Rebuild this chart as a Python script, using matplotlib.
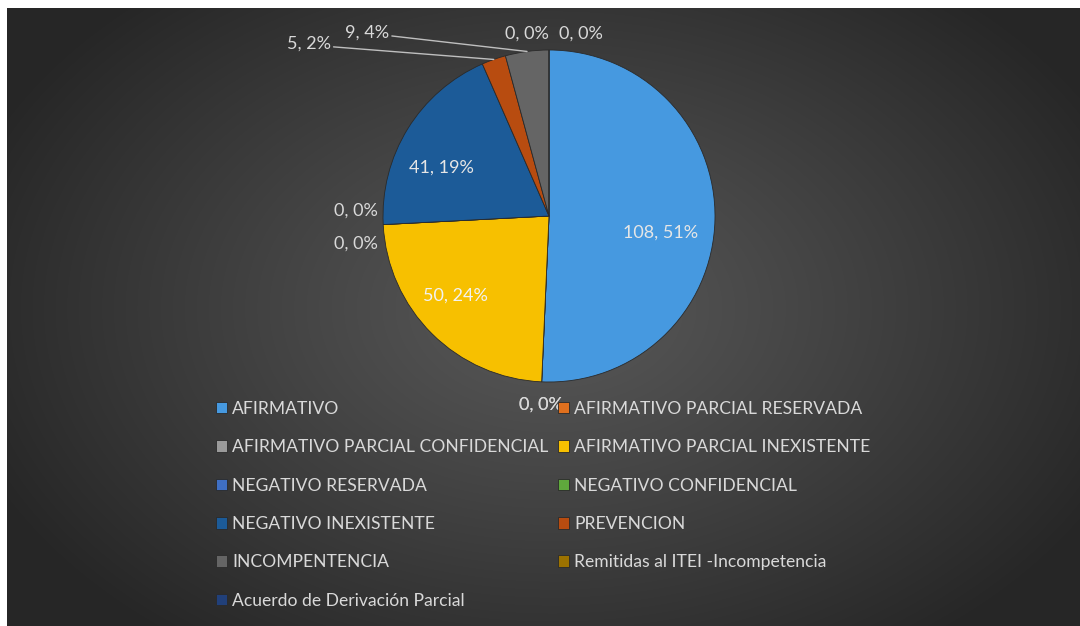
import numpy as np
import matplotlib.pyplot as plt

plt.rcParams['font.family'] = ['Lato', 'DejaVu Sans']

categories = ["AFIRMATIVO", "AFIRMATIVO PARCIAL RESERVADA", "AFIRMATIVO PARCIAL CONFIDENCIAL",
              "AFIRMATIVO PARCIAL INEXISTENTE", "NEGATIVO RESERVADA", "NEGATIVO CONFIDENCIAL",
              "NEGATIVO INEXISTENTE", "PREVENCION", "INCOMPENTENCIA",
              "Remitidas al ITEI -Incompetencia", "Acuerdo de Derivación Parcial"]
values = [108, 0, 0, 50, 0, 0, 41, 5, 9, 0, 0]
colors = ["#4699E0", "#E0701E", "#9A9A9A", "#F7C000", "#3F6FC4", "#5FA83C",
          "#1C5B98", "#B84C10", "#656565", "#9C7200", "#21407A"]

W, H = 1080, 626
fig = plt.figure(figsize=(W / 100, H / 100), dpi=100, facecolor="white")

# dark radial background
bg = fig.add_axes([7 / W, 0, (W - 7) / W, (H - 8) / H])
yy, xx = np.mgrid[0:618, 0:1073]
d = np.sqrt(((xx - 545) / 620.0) ** 2 + ((yy - 300) / 420.0) ** 2)
d = np.clip(d, 0, 1)
g = 0.345 - (0.345 - 0.15) * d ** 1.1
bg.imshow(np.dstack([g, g, g]), aspect="auto", interpolation="bilinear")
bg.axis("off")

ax = fig.add_axes([0, 0, 1, 1])

cx, cy, R = 549, H - 216, 166
wedges, _ = ax.pie(values, colors=colors, startangle=90, counterclock=False,
                   center=(cx, cy), radius=R, frame=True,
                   wedgeprops=dict(edgecolor="#2a2a2a", linewidth=0.6))
ax.set_xlim(0, W)
ax.set_ylim(0, H)
ax.set_aspect("equal")
ax.axis("off")

# percentages rounded so they add up to 100 (largest remainder, like Excel)
total = sum(values)
raw = np.array(values) / total * 100
pct = np.floor(raw).astype(int)
rem = raw - pct
for k in np.argsort(-rem)[:100 - pct.sum()]:
    pct[k] += 1

# label radius (fraction of R) and pixel shift per slice
label_r = [0.66, 1.14, 1.14, 0.74, 1.2, 1.2, 0.72, 1.0, 1.0, 1.1, 1.1]
label_shift = [(2, -14), (0, 0), (0, 0), (-7, 8), (6, 16), (6, -17),
               (-6, -14), (-185, 16), (-160, 19), (-22, 0), (32, 0)]
label_col = ["#E6E6E6", "#D9D9D9", "#D9D9D9", "#F2F2F2", "#D9D9D9", "#D9D9D9",
             "#E6E6E6", "#D9D9D9", "#D9D9D9", "#D9D9D9", "#D9D9D9"]
for i, w in enumerate(wedges):
    mid = np.deg2rad((w.theta1 + w.theta2) / 2)
    ex, ey = cx + R * np.cos(mid), cy + R * np.sin(mid)
    lx = cx + label_r[i] * R * np.cos(mid) + label_shift[i][0]
    ly = cy + label_r[i] * R * np.sin(mid) + label_shift[i][1]
    txt = f"{values[i]}, {pct[i]}%"
    if i in (7, 8):
        ax.annotate(txt, xy=(ex, ey), xytext=(lx, ly), color=label_col[i], fontsize=13,
                    ha="center", va="center",
                    arrowprops=dict(arrowstyle="-", color="#BFBFBF", lw=1.0,
                                    shrinkA=0, shrinkB=0, relpos=(1.0, 0.3)))
    else:
        ax.text(lx, ly, txt, color=label_col[i], fontsize=13, ha="center", va="center")

order = [0, 2, 4, 6, 8, 10, 1, 3, 5, 7, 9]
leg = ax.legend([wedges[k] for k in order], [categories[k] for k in order],
                ncol=2, loc="upper left", bbox_to_anchor=(207 / W, 1 - 392 / H),
                bbox_transform=fig.transFigure, frameon=False, fontsize=12.6,
                labelcolor="#D9D9D9", handlelength=0.65, handleheight=0.65,
                handletextpad=0.3, columnspacing=0.5, labelspacing=1.28, borderpad=0)

fig.savefig("out.png", dpi=100, facecolor="white")
